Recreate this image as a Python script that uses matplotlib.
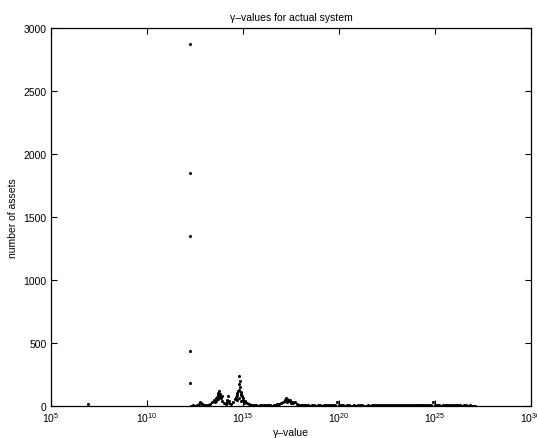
import numpy as np
import matplotlib as mpl
import matplotlib.pyplot as plt
from matplotlib.ticker import FixedLocator, LogFormatterSciNotation, NullLocator

mpl.rcParams["font.family"] = ["Liberation Sans", "DejaVu Sans"]
mpl.rcParams["font.size"] = 7.5
mpl.rcParams["mathtext.default"] = "regular"

# gamma exponents (log10) and asset counts
# tall column of points at one gamma value
spike_exp = [12.27, 12.27, 12.27, 12.27, 12.27]
spike_cnt = [2871, 1847, 1352, 439, 185]

# lone point far on the left
lone_exp = [6.93]
lone_cnt = [12]

# dense low band
base_exp = [12.3, 12.4, 12.5, 12.6, 12.7, 12.8, 12.9, 13.0, 13.1, 13.2,
            13.3, 13.4, 13.5, 13.6, 13.7, 13.8, 13.9, 14.0, 14.1, 14.2,
            14.3, 14.4, 14.5, 14.6, 14.7, 14.8, 14.9, 15.0, 15.1, 15.2,
            15.3, 15.4, 15.5, 15.6, 15.7, 15.8, 15.9, 16.0, 16.1, 16.2,
            16.3, 16.4, 16.5, 16.6, 16.7, 16.8, 16.9, 17.0, 17.1, 17.2,
            17.3, 17.4, 17.5, 17.6, 17.7, 17.8, 17.9, 18.0, 18.1, 18.2,
            18.3, 18.4, 18.5, 18.6, 18.7, 18.8, 18.9, 19.0, 19.1, 19.2,
            19.3, 19.4, 19.5, 19.6, 19.7, 19.8, 19.9, 20.0, 20.1, 20.2,
            20.3, 20.4, 20.5, 20.6, 20.7, 20.8, 20.9, 21.0, 21.1, 21.2,
            21.3, 21.4, 21.5, 21.6, 21.7, 21.8, 21.9, 22.0, 22.1, 22.2,
            22.3, 22.4, 22.5, 22.6, 22.7, 22.8, 22.9, 23.0, 23.1, 23.2,
            23.3, 23.4, 23.5, 23.6, 23.7, 23.8, 23.9, 24.0, 24.1, 24.2,
            24.3, 24.4, 24.5, 24.6, 24.7, 24.8, 24.9, 25.0, 25.1, 25.2,
            25.3, 25.4, 25.5, 25.6, 25.7, 25.8, 25.9, 26.0, 26.1, 26.2,
            26.3, 26.4, 26.5, 26.6, 26.7, 26.8, 26.9, 27.0, 27.1]
base_cnt = [2, 4, 3, 6, 15, 22, 14, 8, 5, 10,
            18, 28, 45, 62, 85, 70, 40, 20, 12, 35,
            25, 15, 30, 55, 90, 130, 95, 60, 40, 25,
            18, 10, 6, 4, 5, 3, 4, 6, 8, 7,
            5, 4, 3, 5, 8, 12, 15, 22, 30, 45,
            52, 40, 35, 25, 30, 18, 10, 6, 8, 5,
            4, 6, 3, 4, 5, 3, 6, 4, 3, 5,
            4, 6, 8, 5, 4, 6, 35, 5, 4, 6,
            3, 5, 4, 3, 2, 4, 3, 5, 6, 4,
            3, 2, 4, 3, 5, 6, 4, 8, 5, 6,
            4, 7, 5, 6, 9, 6, 5, 7, 5, 4,
            6, 5, 8, 6, 4, 5, 7, 6, 5, 4,
            6, 5, 7, 5, 4, 6, 35, 6, 4, 5,
            3, 4, 6, 8, 5, 4, 6, 5, 7, 5,
            4, 3, 5, 4, 3, 4, 2, 3, 2]

# scattered points in the clusters
cluster_exp = [12.75, 12.85, 13.6, 13.65, 13.7, 13.75, 13.8, 13.85, 13.7, 13.9,
               13.55, 14.25, 14.2, 14.3, 14.82, 14.85, 14.78, 14.86, 14.75, 14.9,
               14.7, 14.95, 14.65, 15.0, 14.8, 14.9, 15.1, 14.72, 14.88, 15.05,
               17.25, 17.35, 17.2, 17.45, 17.6, 17.3, 17.5]
cluster_cnt = [30, 18, 40, 75, 100, 117, 95, 60, 55, 80,
               30, 77, 50, 40, 240, 200, 175, 150, 122, 110,
               100, 80, 70, 50, 60, 40, 30, 45, 85, 20,
               61, 50, 38, 45, 35, 28, 20]

gamma_exp = spike_exp + lone_exp + base_exp + cluster_exp
counts = spike_cnt + lone_cnt + base_cnt + cluster_cnt
gamma = 10.0 ** np.array(gamma_exp)

fig = plt.figure(figsize=(5.37, 4.39), dpi=100)
ax = fig.add_axes([0.0944, 0.0729, 0.8946, 0.8611])

ax.plot(gamma, counts, ".", color="black", markersize=2.4, linestyle="none")

ax.set_xscale("log")
ax.set_xlim(1e5, 1e30)
ax.set_ylim(0, 3000)
ax.xaxis.set_major_locator(FixedLocator([1e5, 1e10, 1e15, 1e20, 1e25, 1e30]))
ax.xaxis.set_major_formatter(LogFormatterSciNotation())
ax.xaxis.set_minor_locator(NullLocator())
ax.set_yticks(np.arange(0, 3001, 500))

ax.tick_params(direction="in", top=True, right=True, length=4, width=0.8,
               labelsize=7.5, pad=3)
for s in ax.spines.values():
    s.set_linewidth(0.9)

ax.set_title("\u03b3\u2013values for actual system", fontsize=7.5, pad=6)
ax.set_xlabel("\u03b3\u2013value", fontsize=7.5, labelpad=2)
ax.set_ylabel("number of assets", fontsize=7.5, labelpad=4)

fig.savefig("out.png", dpi=100)
plt.close(fig)
